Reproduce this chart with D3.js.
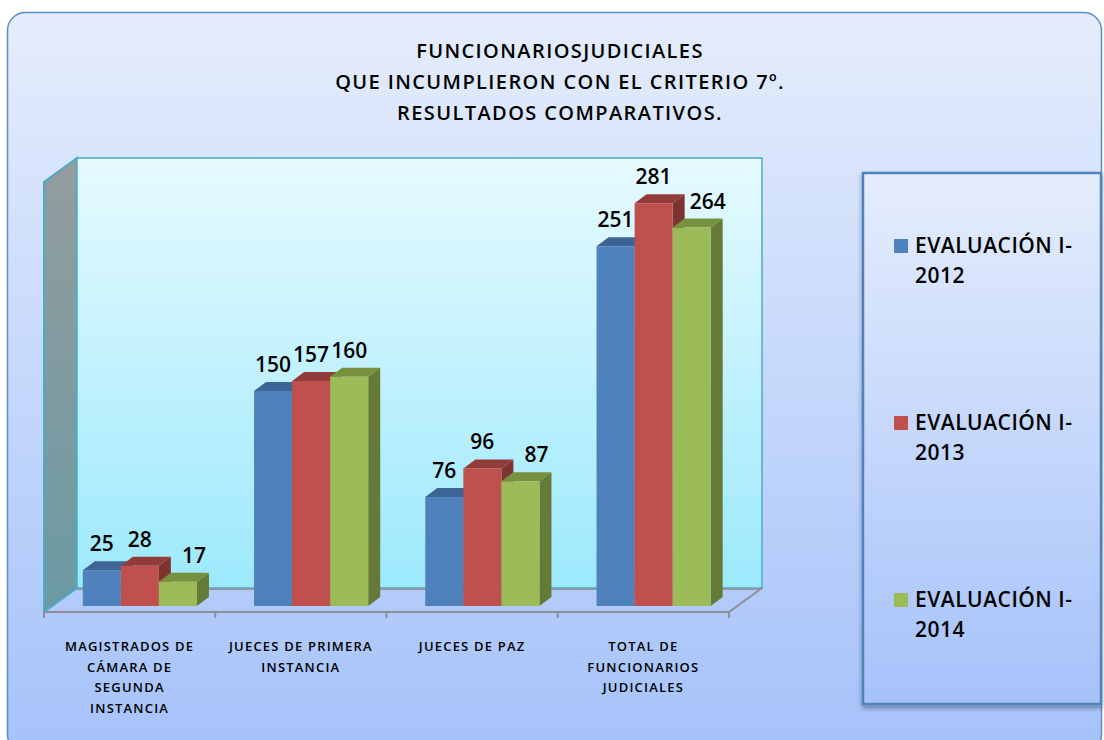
<!DOCTYPE html>
<html><head><meta charset="utf-8">
<script src="https://cdn.jsdelivr.net/npm/d3@7"></script>
<style>html,body{margin:0;padding:0;background:#fff;}svg{display:block;}</style>
</head><body>
<svg id="chart" width="1104" height="740"></svg>
<script>
const titleLines = ["FUNCIONARIOSJUDICIALES", "QUE INCUMPLIERON CON EL CRITERIO 7º.", "RESULTADOS COMPARATIVOS."];
const categories = ["MAGISTRADOS DE\nCÁMARA DE\nSEGUNDA\nINSTANCIA", "JUECES DE PRIMERA\nINSTANCIA", "JUECES DE PAZ", "TOTAL DE\nFUNCIONARIOS\nJUDICIALES"];
const seriesNames = ["EVALUACIÓN I-2012", "EVALUACIÓN I-2013", "EVALUACIÓN I-2014"];
const values2012 = [25, 150, 76, 251];
const values2013 = [28, 157, 96, 281];
const values2014 = [17, 160, 87, 264];
const yMax = 300;

const series = [values2012, values2013, values2014];
const colors = [
  {front:"#4f81bd", top:"#3d6494", side:"#3a5f8b"},
  {front:"#c0504d", top:"#923c3a", side:"#7e3331"},
  {front:"#9bbb59", top:"#77913f", side:"#657a37"}
];

const svg = d3.select("#chart");
const defs = svg.append("defs");
const bg = defs.append("linearGradient").attr("id","bg").attr("x1",0).attr("y1",0).attr("x2",0).attr("y2",1);
bg.append("stop").attr("offset","0%").attr("stop-color","#e5edfc");
bg.append("stop").attr("offset","100%").attr("stop-color","#a5c2fa");
const wall = defs.append("linearGradient").attr("id","wall").attr("x1",0).attr("y1",0).attr("x2",0).attr("y2",1);
wall.append("stop").attr("offset","0%").attr("stop-color","#e6faff");
wall.append("stop").attr("offset","100%").attr("stop-color","#9ce9fc");
const side = defs.append("linearGradient").attr("id","sidewall").attr("x1",0).attr("y1",0).attr("x2",0).attr("y2",1);
side.append("stop").attr("offset","0%").attr("stop-color","#949d9f");
side.append("stop").attr("offset","100%").attr("stop-color","#6a9aa3");
const sh = defs.append("filter").attr("id","shadow").attr("x","-10%").attr("y","-10%").attr("width","120%").attr("height","120%");
sh.append("feDropShadow").attr("dx",0).attr("dy",3).attr("stdDeviation",2.5).attr("flood-color","#000").attr("flood-opacity",0.35);

// outer frame
svg.append("rect").attr("x",7.5).attr("y",12.5).attr("width",1094).attr("height",740).attr("rx",18)
  .attr("fill","url(#bg)").attr("stroke","#5b8ccb").attr("stroke-width",1.5);

// title
svg.append("g").selectAll("text").data(titleLines).join("text")
  .attr("x",560).attr("y",(d,i)=>58+i*31).attr("text-anchor","middle")
  .attr("font-family","'Open Sans', sans-serif").attr("font-weight",600).attr("font-size",20)
  .attr("letter-spacing",1.4).attr("fill","#000").text(d=>d);

// geometry
const frontLeft = 44, frontRight = 729, frontY = 612;
const depthX = 33, depthY = -24;   // floor depth
const barShift = 0.25;             // bars sit a quarter of the way back
const x = d3.scaleBand().domain(d3.range(categories.length)).range([frontLeft, frontRight]).paddingInner(1/3).paddingOuter(1/6);
const xs = d3.scaleBand().domain(d3.range(series.length)).range([0, x.bandwidth()]);
const yBack = d3.scaleLinear().domain([0, yMax]).range([frontY + depthY, frontY + depthY - 430]);
const yFront = v => yBack(v) - depthY * (1 - barShift);
const barDX = depthX * barShift + 2;
const bd = {dx: 12, dy: -9};

// left wall
const wl = frontLeft, wr = frontLeft + depthX;
svg.append("path")
  .attr("d", `M${wl},${frontY} L${wr},${yBack(0)} L${wr},${yBack(yMax)} L${wl},${yBack(yMax)-depthY} Z`)
  .attr("fill","url(#sidewall)").attr("stroke","#4bacc6").attr("stroke-width",2);
// back wall
svg.append("rect").attr("x",wr).attr("y",yBack(yMax)).attr("width",frontRight+depthX-wr).attr("height",yBack(0)-yBack(yMax))
  .attr("fill","url(#wall)").attr("stroke","#4bacc6").attr("stroke-width",1.5);
// floor back edge
svg.append("line").attr("x1",wr).attr("x2",frontRight+depthX).attr("y1",yBack(0)+1).attr("y2",yBack(0)+1)
  .attr("stroke","#8d9aa6").attr("stroke-width",2);
// floor front + right edges
svg.append("path").attr("d",`M${frontLeft},${frontY} L${frontRight},${frontY} L${frontRight+depthX},${frontY+depthY}`)
  .attr("fill","none").attr("stroke","#8c8f96").attr("stroke-width",2);
// ticks
const tickXs = d3.range(categories.length+1).map(i => frontLeft + i*x.step());
svg.append("g").selectAll("line").data(tickXs).join("line")
  .attr("x1",d=>d).attr("x2",d=>d).attr("y1",frontY).attr("y2",frontY+6)
  .attr("stroke","#8c8f96").attr("stroke-width",2);

// bars
const bars = [];
categories.forEach((c,ci)=>{ series.forEach((s,si)=>{ bars.push({ci, si, v:s[ci]}); }); });
const bg3 = svg.append("g");
bars.forEach(b=>{
  const x0 = x(b.ci) + xs(b.si) + barDX, w = xs.bandwidth();
  const yt = yFront(b.v), yb = yFront(0);
  const col = colors[b.si];
  bg3.append("path").attr("d",`M${x0+w},${yb} L${x0+w+bd.dx},${yb+bd.dy} L${x0+w+bd.dx},${yt+bd.dy} L${x0+w},${yt} Z`).attr("fill",col.side);
  bg3.append("path").attr("d",`M${x0},${yt} L${x0+bd.dx},${yt+bd.dy} L${x0+w+bd.dx},${yt+bd.dy} L${x0+w},${yt} Z`).attr("fill",col.top);
  bg3.append("rect").attr("x",x0).attr("y",yt).attr("width",w).attr("height",yb-yt).attr("fill",col.front);
});

// data labels
svg.append("g").selectAll("text").data(bars).join("text")
  .attr("x", b => {
    let cx = x(b.ci) + xs(b.si) + barDX + xs.bandwidth()/2;
    if (b.si === 2 && b.v < series[1][b.ci]) cx += 16;
    return cx;
  })
  .attr("y", b => yFront(b.v) - 19)
  .attr("text-anchor","middle")
  .attr("font-family","'Open Sans', sans-serif").attr("font-weight",600).attr("font-size",21)
  .attr("fill","#000").text(b=>b.v);

// category labels
const cg = svg.append("g");
categories.forEach((c,ci)=>{
  const cx = frontLeft + (ci+0.5)*x.step();
  c.split("\n").forEach((line,li)=>{
    cg.append("text").attr("x",cx).attr("y",651+li*20.5).attr("text-anchor","middle")
      .attr("font-family","'Open Sans', sans-serif").attr("font-weight",600).attr("font-size",13)
      .attr("letter-spacing",1.2).attr("fill","#000").text(line);
  });
});

// legend
svg.append("rect").attr("x",863).attr("y",173).attr("width",238).attr("height",531)
  .attr("fill","url(#bg)").attr("stroke","#4f81bd").attr("stroke-width",2.5).attr("filter","url(#shadow)");
const lg = svg.append("g");
seriesNames.forEach((n,i)=>{
  const cy = 246 + i*177;
  lg.append("rect").attr("x",894).attr("y",cy-7).attr("width",14).attr("height",14).attr("fill",colors[i].front);
  const parts = n.replace("I-","I-\n").split("\n");
  parts.forEach((p,pi)=>{
    lg.append("text").attr("x",915).attr("y",cy+7+pi*30)
      .attr("font-family","'Open Sans', sans-serif").attr("font-weight",600).attr("font-size",21)
      .attr("letter-spacing",0.5).attr("fill","#000").text(p);
  });
});
</script>
</body></html>
